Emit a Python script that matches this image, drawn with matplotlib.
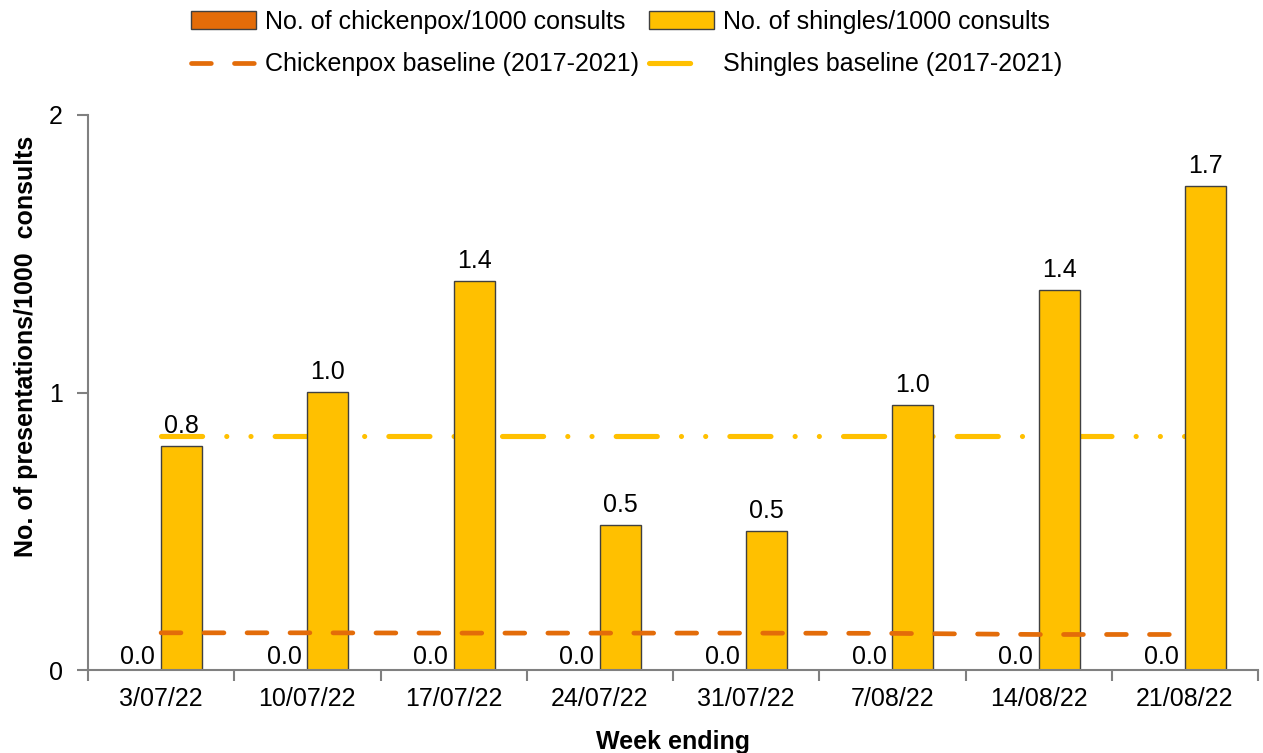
import matplotlib
matplotlib.use("Agg")
import matplotlib.pyplot as plt
import numpy as np

plt.rcParams['font.family'] = ['Liberation Sans', 'DejaVu Sans']

weeks = ["3/07/22", "10/07/22", "17/07/22", "24/07/22", "31/07/22", "7/08/22", "14/08/22", "21/08/22"]
chickenpox = [0.0, 0.0, 0.0, 0.0, 0.0, 0.0, 0.0, 0.0]
shingles = [0.807, 1.002, 1.402, 0.523, 0.501, 0.955, 1.369, 1.744]
chickenpox_baseline = [0.134, 0.134, 0.133, 0.133, 0.133, 0.132, 0.128, 0.128]
shingles_baseline = [0.843, 0.843, 0.843, 0.843, 0.843, 0.843, 0.843, 0.843]

c_orange = "#E36C09"
c_yellow = "#FFC000"
FS = 18

fig = plt.figure(figsize=(12.63, 7.53), dpi=100)
ax = fig.add_axes([88/1263, 1-670/753, (1258-88)/1263, (670-115)/753])

x = np.arange(len(weeks))
w = 0.28
b1 = ax.bar(x - w/2, chickenpox, width=w, color=c_orange, edgecolor="#404040", linewidth=1,
            label="No. of chickenpox/1000 consults", zorder=2)
b2 = ax.bar(x + w/2, shingles, width=w, color=c_yellow, edgecolor="#404040", linewidth=1,
            label="No. of shingles/1000 consults", zorder=2)

l1, = ax.plot(x, chickenpox_baseline, color=c_orange, linewidth=3.4, dashes=(4.2, 4.9),
              dash_capstyle='round', solid_capstyle='round', label="Chickenpox baseline (2017-2021)", zorder=3)
l2, = ax.plot(x, shingles_baseline, color=c_yellow, linewidth=3.7, dashes=(8.0, 4.7, 0.01, 4.7, 0.01, 4.7),
              dash_capstyle='round', solid_capstyle='round', label="Shingles baseline (2017-2021)", zorder=1)

for xi, v in zip(x, chickenpox):
    ax.annotate(f"{v:.1f}", (xi - w/2 - 0.02, v), xytext=(0, 1), textcoords="offset points",
                ha="center", va="bottom", fontsize=FS, zorder=4)
for xi, v in zip(x, shingles):
    ax.annotate(f"{v:.1f}", (xi + w/2, v), xytext=(0, 6), textcoords="offset points",
                ha="center", va="bottom", fontsize=FS, zorder=4)

ax.set_xlim(-0.5, len(weeks) - 0.5)
ax.set_ylim(0, 2)
ax.set_yticks([0, 1, 2])
ax.set_yticklabels(["0", "1", "2"], fontsize=FS)
ax.set_xticks(x)
ax.set_xticklabels(weeks, fontsize=FS)
ax.tick_params(axis='x', length=0, pad=12)
ax.set_xticks(np.arange(-0.5, len(weeks), 1), minor=True)
ax.tick_params(axis='x', which='minor', length=8, color="#808080", width=1.5, direction='out')
ax.tick_params(axis='y', length=8, color="#808080", width=1.5, direction='out', pad=10)

for s in ["top", "right"]:
    ax.spines[s].set_visible(False)
for s in ["left", "bottom"]:
    ax.spines[s].set_color("#808080")
    ax.spines[s].set_linewidth(1.5)

ax.set_xlabel("Week ending", fontsize=FS, fontweight="bold", labelpad=14)
ax.set_ylabel("No. of presentations/1000  consults", fontsize=FS, fontweight="bold")
ax.yaxis.set_label_coords(-0.0425, 0.583)

fig.legend(handles=[b1, l1, b2, l2], loc="upper center", bbox_to_anchor=(0.496, 1.017), ncol=2,
           frameon=False, fontsize=FS, handlelength=2.6, columnspacing=0.4, handletextpad=0.35,
           labelspacing=0.75)

fig.savefig("out.png", dpi=100)
